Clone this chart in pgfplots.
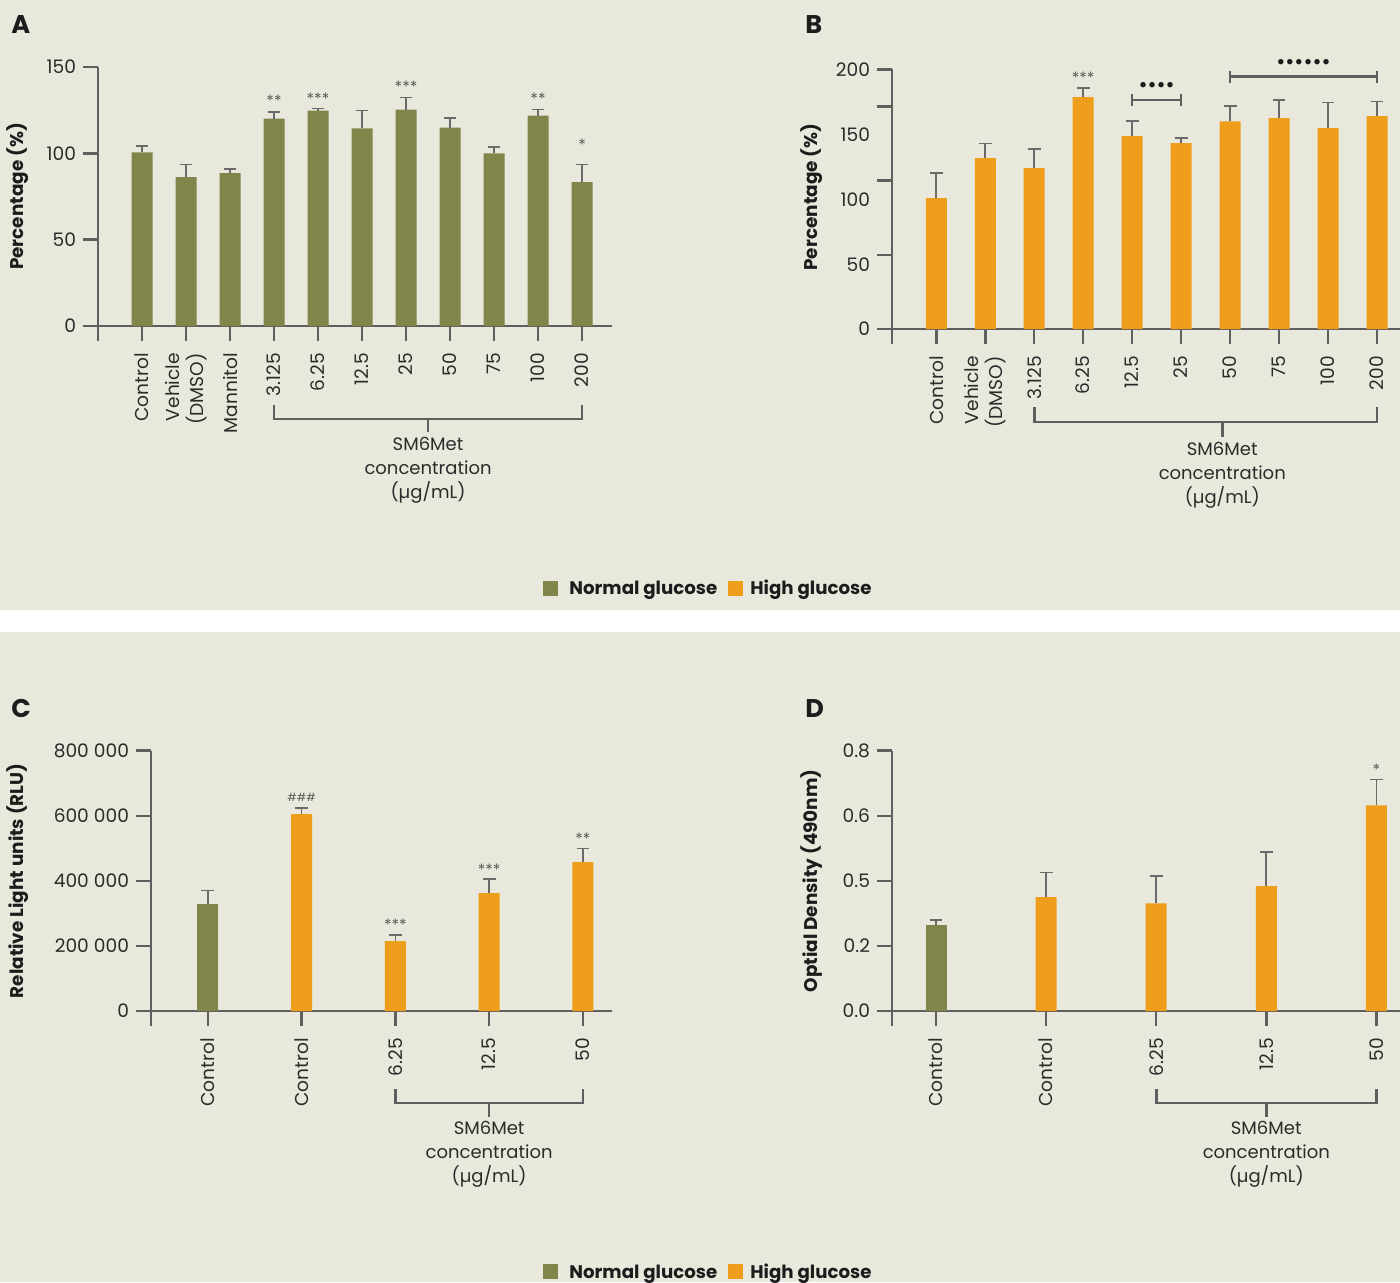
\documentclass[border=0pt]{standalone}
\usepackage{fontspec}
\setmainfont{Poppins}
\usepackage{pgfplots}
\pgfplotsset{compat=1.18}
\definecolor{bg}{HTML}{E8E9DC}
\definecolor{olive}{HTML}{82854A}
\definecolor{orng}{HTML}{EF9E1B}
\definecolor{axg}{HTML}{5F5F5F}
\definecolor{errg}{HTML}{6A6A6A}
\definecolor{txt}{HTML}{2B2B2B}
\definecolor{blk}{HTML}{1C1C1C}

\pgfplotsset{
 panel/.style={
  scale only axis,
  anchor=south west,
  axis x line*=bottom, axis y line*=left,
  axis line style={line width=1.25pt, draw=axg},
  tick align=outside,
  major tick length=7.5pt,
  tick style={line width=1.25pt, draw=axg},
  tick label style={font=\fontsize{9.3}{12}\selectfont, text=txt},
  xticklabel style={rotate=90, anchor=east, align=right},
  xticklabel shift=2.5pt,
  /pgf/number format/assume math mode=true,
  scaled y ticks=false,
  clip=false,
  ymin=0,
  ylabel style={font=\bfseries\fontsize{9.2}{11}\selectfont, text=blk, anchor=center},
 },
 bars/.style={ybar, bar width=10.5pt, bar shift=0pt, fill=#1, draw=none,
   error bars/.cd, y dir=plus, y explicit, error mark=|,
   error bar style={line width=0.8pt, draw=errg},
   error mark options={mark size=3.2pt, line width=0.8pt, draw=errg}},
}
\tikzset{
 brk/.style={line width=1.3pt, draw=axg},
 grp/.style={anchor=north, align=center, inner sep=0pt, text=txt, font=\fontsize{9}{12}\selectfont},
 star/.style={font=\fontsize{7.8}{8}\selectfont, text=errg!85!black, inner sep=0pt},
 hash/.style={font=\fontsize{5.6}{6}\selectfont, text=errg!85!black, inner sep=0pt},
 dots/.style={font=\fontsize{11}{12}\selectfont, text=blk, inner sep=0pt},
 plab/.style={anchor=base west, font=\bfseries\fontsize{12.8}{14}\selectfont, text=blk, inner sep=0pt},
 leg/.style={anchor=base west, font=\bfseries\fontsize{9.1}{11}\selectfont, text=blk, inner sep=0pt},
}

\begin{document}
\begin{tikzpicture}
\fill[bg] (0,0) rectangle (700pt,-641pt);
\fill[white] (0,-305pt) rectangle (700pt,-316pt);

% ---------------- Panel A ----------------
\begin{axis}[panel, at={(49pt,-163pt)}, width=257pt, height=129.5pt,
  xmin=-1, xmax=10.68, ymax=150, ytick={0,50,100,150},
  xtick={-1,0,1,2,3,4,5,6,7,8,9,10},
  xticklabels={{},Control,{Vehicle\\(DMSO)},Mannitol,3.125,6.25,12.5,25,50,75,100,200},
  ylabel={Percentage (\%)}, ylabel style={at={(axis description cs:-0.1556,0.5)}}]
\addplot[bars=olive] table[x=x, y=y, y error=e] {
x y e
0 100.6 3.8
1 86.2 7.3
2 88.5 2.5
3 120.1 4.0
4 124.7 1.2
5 114.4 10.5
6 125.3 7.1
7 114.9 5.4
8 100.0 3.6
9 121.8 3.7
10 83.3 10.2
};
\node[star] at (axis cs:3,130.5) {**};
\node[star] at (axis cs:4,131.4) {***};
\node[star] at (axis cs:6,138.7) {***};
\node[star] at (axis cs:9,131.4) {**};
\node[star] at (axis cs:10,105) {*};
\draw[brk] ([yshift=-39.5pt]axis cs:3,0) -- ([yshift=-46.5pt]axis cs:3,0) -- ([yshift=-46.5pt]axis cs:10,0) -- ([yshift=-39.5pt]axis cs:10,0);
\draw[brk] ([yshift=-46.5pt]axis cs:6.5,0) -- ([yshift=-53pt]axis cs:6.5,0);
\node[grp] at ([yshift=-55.5pt]axis cs:6.5,0) {SM6Met\\concentration\\(µg/mL)};
\end{axis}

% ---------------- Panel B ----------------
\begin{axis}[panel, at={(446pt,-164.5pt)}, width=254pt, height=129.85pt,
  xmin=-0.904, xmax=9.47, ymax=200.5,
  ytick={0,57.3,114.6,171.9,200.5}, yticklabels={,,,,},
  extra y ticks={0,50,100,150,200}, extra y tick labels={0,50,100,150,200},
  extra y tick style={major tick style={draw=none}},
  xtick={-0.904,0,1,2,3,4,5,6,7,8,9},
  xticklabels={{},Control,{Vehicle\\(DMSO)},3.125,6.25,12.5,25,50,75,100,200},
  ylabel={Percentage (\%)}, ylabel style={at={(axis description cs:-0.1575,0.508)}}]
\addplot[bars=orng] table[x=x, y=y, y error=e] {
x y e
0 101.0 19.6
1 132.0 11.1
2 124.2 15.0
3 179.0 7.2
4 148.9 11.6
5 143.5 4.1
6 160.4 11.6
7 162.8 14.1
8 155.0 19.9
9 164.3 11.4
};
\node[star] at (axis cs:3,194.1) {***};
\draw[brk] (axis cs:4,172.2) -- (axis cs:4,181.4);
\draw[brk] (axis cs:5,172.2) -- (axis cs:5,181.4);
\draw[brk] (axis cs:4,176.8) -- (axis cs:5,176.8);
\node[dots] at (axis cs:4.5,186.6) {••••};
\draw[brk] (axis cs:6,190.2) -- (axis cs:6,199.4);
\draw[brk] (axis cs:9,190.2) -- (axis cs:9,199.4);
\draw[brk] (axis cs:6,194.8) -- (axis cs:9,194.8);
\node[dots] at (axis cs:7.5,204.4) {••••••};
\draw[brk] ([yshift=-39pt]axis cs:2,0) -- ([yshift=-46.5pt]axis cs:2,0) -- ([yshift=-46.5pt]axis cs:9,0) -- ([yshift=-39pt]axis cs:9,0);
\draw[brk] ([yshift=-46.5pt]axis cs:5.84,0) -- ([yshift=-54pt]axis cs:5.84,0);
\node[grp] at ([yshift=-56.5pt]axis cs:5.84,0) {SM6Met\\concentration\\(µg/mL)};
\end{axis}

% ---------------- Panel C ----------------
\begin{axis}[panel, at={(75.5pt,-505.5pt)}, width=230.5pt, height=130.15pt,
  xmin=-0.606, xmax=4.31, ymax=800000,
  ytick={0,200000,400000,600000,800000},
  yticklabels={0,200 000,400 000,600 000,800 000},
  xtick={-0.606,0,1,2,3,4},
  xticklabels={{},Control,Control,6.25,12.5,50},
  ylabel={Relative Light units (RLU)}, ylabel style={at={(axis description cs:-0.2885,0.5)}}]
\addplot[bars=olive] table[x=x, y=y, y error=e] {
x y e
0 328800 42000
};
\addplot[bars=orng] table[x=x, y=y, y error=e] {
x y e
1 605400 18400
2 215100 18400
3 362600 43000
4 457900 42000
};
\node[hash] at (axis cs:1,655600) {\#\#\#};
\node[star] at (axis cs:2,264300) {***};
\node[star] at (axis cs:3,435300) {***};
\node[star] at (axis cs:4,530600) {**};
\draw[brk] ([yshift=-39pt]axis cs:2,0) -- ([yshift=-46pt]axis cs:2,0) -- ([yshift=-46pt]axis cs:4,0) -- ([yshift=-39pt]axis cs:4,0);
\draw[brk] ([yshift=-46pt]axis cs:3,0) -- ([yshift=-53pt]axis cs:3,0);
\node[grp] at ([yshift=-55pt]axis cs:3,0) {SM6Met\\concentration\\(µg/mL)};
\end{axis}

% ---------------- Panel D ----------------
\begin{axis}[panel, at={(446pt,-505.5pt)}, width=254pt, height=130.15pt,
  xmin=-0.4, xmax=4.215, ymax=0.8,
  ytick={0,0.2,0.4,0.6,0.8},
  yticklabels={0.0,0.2,0.5,0.6,0.8},
  xtick={-0.4,0,1,2,3,4},
  xticklabels={{},Control,Control,6.25,12.5,50},
  ylabel={Optial Density (490nm)}, ylabel style={at={(axis description cs:-0.1575,0.5)}}]
\addplot[bars=olive] table[x=x, y=y, y error=e] {
x y e
0 0.263 0.017
};
\addplot[bars=orng] table[x=x, y=y, y error=e] {
x y e
1 0.350 0.076
2 0.331 0.084
3 0.384 0.105
4 0.632 0.080
};
\node[star] at (axis cs:4,0.743) {*};
\draw[brk] ([yshift=-39pt]axis cs:2,0) -- ([yshift=-46pt]axis cs:2,0) -- ([yshift=-46pt]axis cs:4,0) -- ([yshift=-39pt]axis cs:4,0);
\draw[brk] ([yshift=-46pt]axis cs:3,0) -- ([yshift=-53pt]axis cs:3,0);
\node[grp] at ([yshift=-55pt]axis cs:3,0) {SM6Met\\concentration\\(µg/mL)};
\end{axis}

% panel letters
\node[plab] at (5.5pt,-16.5pt) {A};
\node[plab] at (402.5pt,-16.5pt) {B};
\node[plab] at (5.5pt,-358.5pt) {C};
\node[plab] at (402.5pt,-358.5pt) {D};

% legends
\fill[olive] (271.5pt,-290.5pt) rectangle (279pt,-298pt);
\node[leg] at (284.5pt,-297pt) {Normal glucose};
\fill[orng] (364pt,-290.5pt) rectangle (371.5pt,-298pt);
\node[leg] at (375pt,-297pt) {High glucose};
\fill[olive] (271.5pt,-632pt) rectangle (279pt,-639.5pt);
\node[leg] at (284.5pt,-639pt) {Normal glucose};
\fill[orng] (364pt,-632pt) rectangle (371.5pt,-639.5pt);
\node[leg] at (375pt,-639pt) {High glucose};

\pgfresetboundingbox
\useasboundingbox (0,0) rectangle (700pt,-641pt);
\end{tikzpicture}
\end{document}
